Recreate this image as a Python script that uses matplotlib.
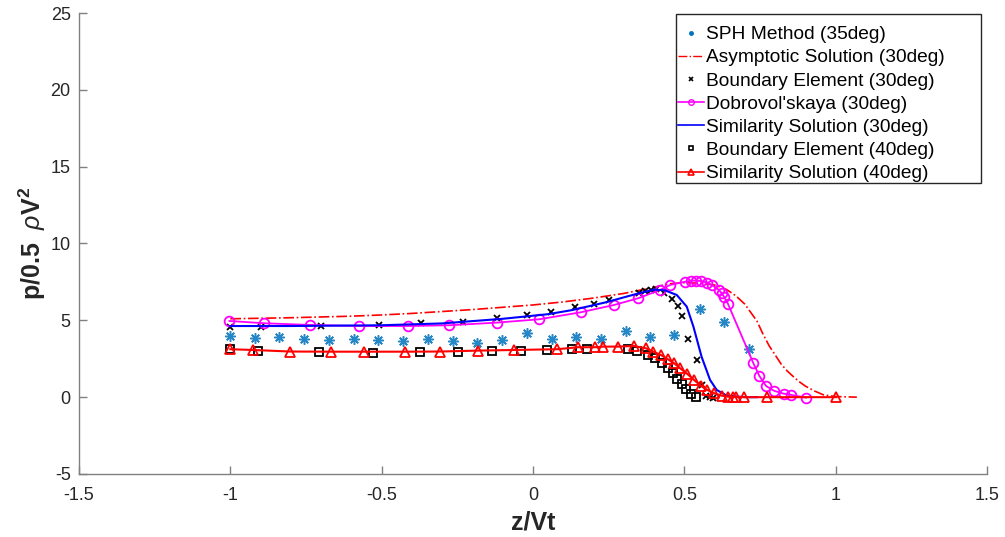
import matplotlib
matplotlib.use('Agg')
import matplotlib.pyplot as plt
from matplotlib.lines import Line2D
from matplotlib.patches import Rectangle

plt.rcParams['font.family'] = ['Liberation Sans', 'DejaVu Sans']
plt.rcParams['mathtext.fontset'] = 'custom'
plt.rcParams['mathtext.rm'] = 'Liberation Sans'
plt.rcParams['mathtext.it'] = 'Liberation Sans:italic'
plt.rcParams['mathtext.bf'] = 'Liberation Sans:bold'
plt.rcParams['axes.unicode_minus'] = False

# ---------------- data ----------------
sph_x = [-1.0, -0.918, -0.838, -0.756, -0.675, -0.593, -0.511, -0.429, -0.346, -0.265, -0.184,
         -0.101, -0.021, 0.062, 0.142, 0.225, 0.306, 0.387, 0.467, 0.552, 0.632, 0.715]
sph_y = [3.98, 3.87, 3.90, 3.81, 3.72, 3.81, 3.70, 3.64, 3.79, 3.68, 3.55,
         3.72, 4.20, 3.77, 3.94, 3.77, 4.31, 3.94, 4.07, 5.72, 4.91, 3.14]

asym_x = [-1.0, -0.8, -0.6, -0.5, -0.4, -0.2, 0.0, 0.1, 0.2, 0.3, 0.4, 0.45, 0.5, 0.55, 0.6,
          0.64, 0.67, 0.70, 0.72, 0.74, 0.76, 0.78, 0.80, 0.82, 0.84, 0.86, 0.88, 0.90, 0.93,
          0.96, 1.0, 1.07]
asym_y = [5.1, 5.17, 5.27, 5.35, 5.45, 5.7, 6.0, 6.2, 6.45, 6.75, 7.15, 7.38, 7.45, 7.42, 7.3,
          7.0, 6.6, 6.05, 5.5, 4.95, 4.1, 3.35, 2.75, 2.15, 1.7, 1.34, 1.0, 0.72, 0.4,
          0.15, 0.04, 0.0]

be30_x = [-1.0, -0.9, -0.7, -0.51, -0.37, -0.23, -0.12, -0.02, 0.06, 0.14, 0.2, 0.25, 0.35,
          0.37, 0.39, 0.405, 0.433, 0.458, 0.480, 0.493, 0.511, 0.543, 0.557, 0.572, 0.585, 0.596]
be30_y = [4.55, 4.55, 4.6, 4.7, 4.8, 4.9, 5.15, 5.35, 5.55, 5.85, 6.05, 6.3, 6.8,
          6.9, 7.0, 7.02, 6.78, 6.4, 5.93, 5.28, 3.77, 2.4, 0.8, 0.06, -0.01, -0.04]

dob_x = [-1.003, -0.888, -0.737, -0.574, -0.412, -0.277, -0.12, 0.021, 0.157, 0.268, 0.348,
         0.42, 0.453, 0.502, 0.522, 0.537, 0.554, 0.576, 0.592, 0.613, 0.624, 0.631, 0.644,
         0.728, 0.748, 0.770, 0.797, 0.830, 0.852, 0.902]
dob_y = [4.96, 4.81, 4.70, 4.63, 4.63, 4.68, 4.85, 5.07, 5.52, 6.0, 6.44,
         6.98, 7.3, 7.51, 7.58, 7.58, 7.56, 7.45, 7.28, 7.0, 6.76, 6.54, 6.08,
         2.21, 1.38, 0.73, 0.41, 0.22, 0.15, -0.03]

sim30_x = [-1.0, -0.8, -0.5, -0.3, -0.1, 0.05, 0.13, 0.24, 0.34, 0.40, 0.436, 0.475, 0.508,
           0.530, 0.557, 0.585, 0.607, 0.640, 0.70, 0.74]
sim30_y = [4.63, 4.63, 4.68, 4.8, 5.1, 5.4, 5.67, 6.17, 6.71, 7.0, 6.95, 6.65, 5.89,
           4.59, 2.63, 1.12, 0.47, 0.10, 0.0, 0.0]

be40_x = [-1.0, -0.908, -0.706, -0.528, -0.373, -0.249, -0.134, -0.040, 0.047, 0.128, 0.177,
          0.315, 0.345, 0.381, 0.403, 0.425, 0.447, 0.463, 0.477, 0.491, 0.505, 0.521, 0.538]
be40_y = [3.15, 3.01, 2.96, 2.90, 2.92, 2.92, 3.0, 3.03, 3.10, 3.14, 3.16,
          3.16, 2.98, 2.77, 2.56, 2.24, 1.92, 1.55, 1.2, 0.85, 0.52, 0.22, 0.0]

sim40_x = [-1.0, -0.924, -0.803, -0.667, -0.557, -0.423, -0.307, -0.181, -0.063, 0.080, 0.148,
           0.205, 0.232, 0.28, 0.333, 0.373, 0.397, 0.422, 0.445, 0.466, 0.486, 0.510, 0.532,
           0.555, 0.576, 0.599, 0.623, 0.645, 0.66, 0.672, 0.697, 0.772, 1.002]
sim40_y = [3.12, 3.07, 2.97, 2.96, 2.96, 2.96, 2.97, 3.03, 3.07, 3.12, 3.25,
           3.25, 3.29, 3.29, 3.33, 3.18, 2.96, 2.75, 2.47, 2.21, 1.88, 1.51, 1.12,
           0.73, 0.47, 0.25, 0.10, 0.03, 0.02, 0.01, 0.0, 0.0, 0.0]

labels = ['SPH Method (35deg)', 'Asymptotic Solution (30deg)', 'Boundary Element (30deg)',
          "Dobrovol'skaya (30deg)", 'Similarity Solution (30deg)', 'Boundary Element (40deg)',
          'Similarity Solution (40deg)']
x_ticks = [-1.5, -1, -0.5, 0, 0.5, 1, 1.5]
x_ticklabels = ['-1.5', '-1', '-0.5', '0', '0.5', '1', '1.5']
y_ticks = [-5, 0, 5, 10, 15, 20, 25]

# ---------------- styles ----------------
c_sph = '#0072BD'
c_red = '#FF0000'
c_mag = '#FF00FF'
c_blue = '#0000FF'

W, H = 1005, 537
fig = plt.figure(figsize=(W / 100, H / 100), dpi=100)
ax = fig.add_axes([79 / W, 1 - 474 / H, (987 - 79) / W, (474 - 13) / H])

ax.plot(sph_x, sph_y, linestyle='none', marker=(8, 2, 0), ms=7.5, mew=1.1, color=c_sph, alpha=0.85)
ax.plot(asym_x, asym_y, linestyle='-.', lw=1.2, color=c_red)
ax.plot(be30_x, be30_y, linestyle='none', marker='x', ms=4.5, mew=1.3, color='black')
ax.plot(dob_x, dob_y, '-', lw=1.3, color=c_mag, marker='o', ms=7, mfc='none', mew=1.3)
ax.plot(sim30_x, sim30_y, '-', lw=1.5, color=c_blue)
ax.plot(be40_x, be40_y, linestyle='none', marker='s', ms=5.5, mfc='none', mec='black', mew=1.3)
ax.plot(sim40_x, sim40_y, '-', lw=1.5, color=c_red, marker='^', ms=7.5, mfc='none', mew=1.3)

ax.set_xlim(-1.5, 1.5)
ax.set_ylim(-5, 25)
ax.set_xticks(x_ticks)
ax.set_xticklabels(x_ticklabels)
ax.set_yticks(y_ticks)

for s in ['top', 'right']:
    ax.spines[s].set_visible(False)
for s in ['left', 'bottom']:
    ax.spines[s].set_color('#808080')
    ax.spines[s].set_linewidth(1.0)

ax.tick_params(direction='in', length=6, width=1.0, color='#808080',
               labelsize=13, labelcolor='#262626')
ax.tick_params(axis='x', pad=9)
ax.tick_params(axis='y', pad=6)

ax.set_xlabel('z/Vt', fontsize=18, fontweight='bold', color='#262626', labelpad=5)
ax.set_ylabel(r'p/0.5  $\rho$V$^{\mathbf{2}}$', fontsize=18, fontweight='bold',
              color='#262626', labelpad=2)

# legend frame (MATLAB-style, extra right padding)
fig.patches.append(Rectangle((676 / W, 1 - 183 / H), (981 - 676) / W, (183 - 14) / H,
                             transform=fig.transFigure, facecolor='white',
                             edgecolor='#262626', lw=1.0, zorder=4))

handles = [
    Line2D([], [], linestyle='none', marker='.', ms=5, color=c_sph),
    Line2D([], [], linestyle='-.', lw=1.0, color=c_red),
    Line2D([], [], linestyle='none', marker='x', ms=3.5, mew=1.2, color='black'),
    Line2D([], [], linestyle='-', lw=1.2, color=c_mag, marker='o', ms=4, mfc='none', mew=1.0),
    Line2D([], [], linestyle='-', lw=1.2, color=c_blue),
    Line2D([], [], linestyle='none', marker='s', ms=3.5, mfc='none', mec='black', mew=1.2),
    Line2D([], [], linestyle='-', lw=1.2, color=c_red, marker='^', ms=4.5, mfc='none', mew=1.2),
]
leg = fig.legend(handles, labels, loc='upper left', bbox_to_anchor=(676 / W, 1 - 24 / H),
                 fontsize=13.8, frameon=False, handlelength=1.35, handletextpad=0.12,
                 labelspacing=0.30, borderpad=0.1, borderaxespad=0)
leg.set_zorder(5)
for t in leg.get_texts():
    t.set_color('black')

fig.savefig('out.png', dpi=100)
